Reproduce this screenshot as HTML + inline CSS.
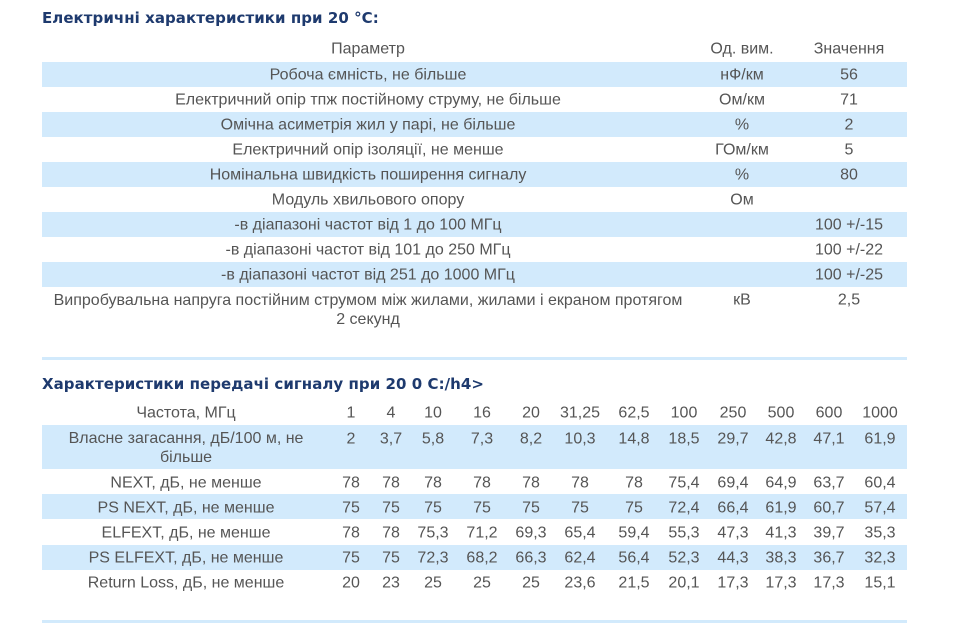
<!DOCTYPE html>
<html><head><meta charset="utf-8"><style>
body{margin:0;width:963px;height:625px;background:#fff;position:relative;overflow:hidden;font-family:"Liberation Sans",sans-serif;color:#555;font-size:16px}
.t{position:absolute;left:42px;font-weight:bold;color:#1e3a6e;font-size:15px;letter-spacing:0.05px;font-family:"DejaVu Sans",sans-serif}
.b{position:absolute;left:42px;width:865px;background:#d2eafc}
.c{position:absolute;transform:translate(-50%,-50%);white-space:nowrap;text-align:center;line-height:19px}
.l{position:absolute;left:42px;width:865px;height:3px;background:#d2eafc}
</style></head><body>
<div class="t" style="top:9px">Електричні характеристики при 20 °C:</div>
<div class="b" style="top:62px;height:25px"></div>
<div class="b" style="top:112px;height:25px"></div>
<div class="b" style="top:162px;height:25px"></div>
<div class="b" style="top:212px;height:25px"></div>
<div class="b" style="top:262px;height:25px"></div>
<div id="t1"></div>
<div class="c" style="left:368px;top:310px">Випробувальна напруга постійним струмом між жилами, жилами і екраном протягом<br>2 секунд</div><div class="c" style="left:742px;top:300px">кВ</div><div class="c" style="left:849px;top:300px">2,5</div>
<div class="l" style="top:357px"></div>
<div class="t" style="top:375px">Характеристики передачі сигналу при 20 0 С:/h4&gt;</div>
<div class="b" style="top:425px;height:44px"></div>
<div class="b" style="top:494px;height:25px"></div>
<div class="b" style="top:545px;height:25px"></div>
<div class="l" style="top:620px"></div>
<div id="t2"></div>
<script>
var r1=[[49,"Параметр","Од. вим.","Значення"],[75,"Робоча ємність, не більше","нФ/км","56"],[100,"Електричний опір тпж постійному струму, не більше","Ом/км","71"],[125,"Омічна асиметрія жил у парі, не більше","%","2"],[150,"Електричний опір ізоляції, не менше","ГОм/км","5"],[175,"Номінальна швидкість поширення сигналу","%","80"],[200,"Модуль хвильового опору","Ом",""],[225,"-в діапазоні частот від 1 до 100 МГц","","100 +/-15"],[250,"-в діапазоні частот від 101 до 250 МГц","","100 +/-22"],[275,"-в діапазоні частот від 251 до 1000 МГц","","100 +/-25"]];
var h1="";
r1.forEach(function(r){[368,742,849].forEach(function(x,i){if(r[i+1])h1+='<div class="c" style="left:'+x+'px;top:'+r[0]+'px">'+r[i+1]+'</div>';});});
document.getElementById("t1").innerHTML=h1;
var xs=[351,391,433,482,531,580,634,684,733,781,829,880];
var rows=[
[413,"Частота, МГц",["1","4","10","16","20","31,25","62,5","100","250","500","600","1000"]],
[439,"",["2","3,7","5,8","7,3","8,2","10,3","14,8","18,5","29,7","42,8","47,1","61,9"]],
[483,"NEXT, дБ, не менше",["78","78","78","78","78","78","78","75,4","69,4","64,9","63,7","60,4"]],
[508,"PS NEXT, дБ, не менше",["75","75","75","75","75","75","75","72,4","66,4","61,9","60,7","57,4"]],
[533,"ELFEXT, дБ, не менше",["78","78","75,3","71,2","69,3","65,4","59,4","55,3","47,3","41,3","39,7","35,3"]],
[558,"PS ELFEXT, дБ, не менше",["75","75","72,3","68,2","66,3","62,4","56,4","52,3","44,3","38,3","36,7","32,3"]],
[583,"Return Loss, дБ, не менше",["20","23","25","25","25","23,6","21,5","20,1","17,3","17,3","17,3","15,1"]]];
var h="";
rows.forEach(function(r){
 if(r[1])h+='<div class="c" style="left:186px;top:'+r[0]+'px">'+r[1]+'</div>';
 r[2].forEach(function(v,i){h+='<div class="c" style="left:'+xs[i]+'px;top:'+r[0]+'px">'+v+'</div>';});
});
h+='<div class="c" style="left:186px;top:448px">Власне загасання, дБ/100 м, не<br>більше</div>';
document.getElementById("t2").innerHTML=h;
</script>
</body></html>
